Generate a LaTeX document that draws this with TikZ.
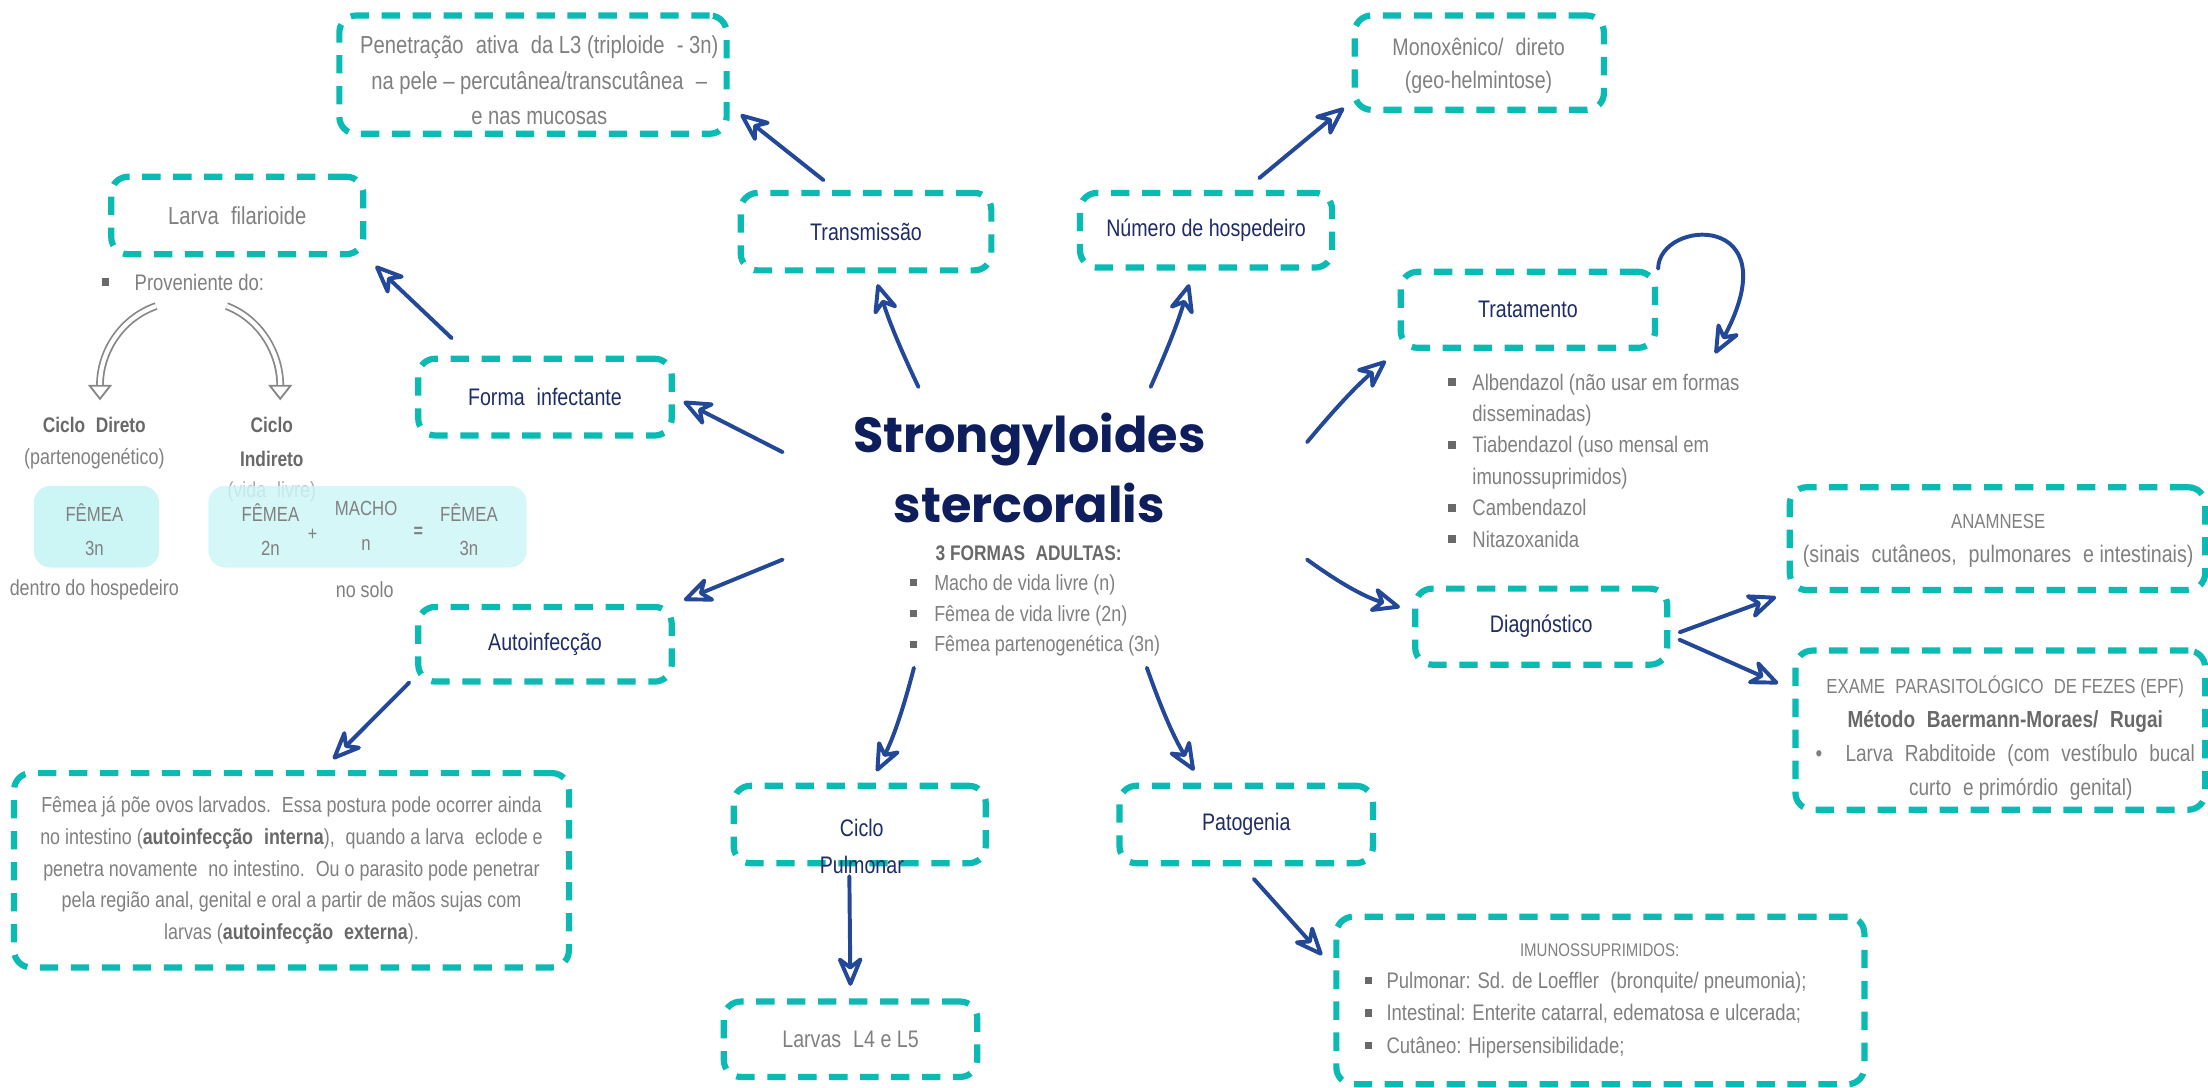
\documentclass[tikz,border=0pt]{standalone}
\usepackage{fontspec}
\setmainfont{Liberation Sans}[FakeStretch=0.82]
\newfontfamily\titlefont{Poppins}
\usetikzlibrary{arrows.meta}

\definecolor{boxteal}{RGB}{12,186,180}
\definecolor{labelnavy}{RGB}{30,44,104}
\definecolor{arrowblue}{RGB}{36,72,152}
\definecolor{titlenavy}{RGB}{14,30,92}
\definecolor{txtgray}{RGB}{128,128,128}
\definecolor{boldgray}{RGB}{105,105,105}
\definecolor{softcyan}{RGB}{204,246,246}
\definecolor{hollowgray}{RGB}{135,135,135}

\newcommand{\sqb}{\textcolor{boldgray}{\raisebox{0.18em}{\rule{0.34em}{0.34em}}}}
\newcommand{\fsz}[2]{\fontsize{#1}{#2}\selectfont}
\newcommand{\bgr}[1]{\textcolor{boldgray}{\textbf{#1}}}

\tikzset{
  dbox/.style={draw=boxteal, line width=4.4pt, dash pattern=on 13pt off 9pt,
    rounded corners=12pt, inner sep=0pt, align=center},
  navylbl/.style={text=labelnavy, font=\fsz{17}{21}},
  graytxt/.style={text=txtgray, inner sep=0pt, align=center},
  arr/.style={draw=arrowblue, line width=2.8pt, line cap=round,
    -{Stealth[open, round, length=25pt, width=21pt, inset=8pt]}},
  hollowout/.style={draw=hollowgray, line width=5.5pt,
    -{Triangle[open, line width=1.3pt, length=11pt, width=17pt]}},
  hollowin/.style={draw=white, line width=3pt, shorten >=11pt},
  cyanbox/.style={fill=softcyan, rounded corners=12pt, inner sep=0pt},
}

\begin{document}
\begin{tikzpicture}[x=1pt, y=-1pt]
\fill[white] (0,0) rectangle (1568,772);
\useasboundingbox (0,0) rectangle (1568,772);

% ---------- central title ----------
\node[minimum width=372pt, minimum height=199pt, inner sep=0pt] (hub) at (742,374.5) {};
\node[text=titlenavy, font=\titlefont\bfseries\fsz{35}{40}, inner sep=0pt, anchor=base] (title1) at (731,321) {Strongyloides};
\node[text=titlenavy, font=\titlefont\bfseries\fsz{35}{40}, inner sep=0pt, anchor=base] (title2) at (731,371) {stercoralis};
\node[text=boldgray, font=\bfseries\fsz{15}{20}, inner sep=0pt] (formas) at (730.5,393) {3 FORMAS\enspace ADULTAS:};
\node[graytxt, anchor=base west, font=\fsz{15.5}{22}, align=left] (formaslist) at (646,419)
  {\begin{tabular}[t]{@{}l@{\hspace{12pt}}l@{}}\sqb & Macho de vida livre (n)\\ \sqb & Fêmea de vida livre (2n)\\ \sqb & Fêmea partenogenética (3n)\end{tabular}};

% ---------- top row ----------
\node[dbox, minimum width=275pt, minimum height=84pt] (pen) at (378.5,53) {};
\node[graytxt, font=\fsz{17.5}{25}] (pentxt) at (383,57)
  {Penetração\enspace ativa\enspace da L3 (triploide\enspace - 3n)\\na pele – percutânea/transcutânea\enspace –\\e nas mucosas};
\node[dbox, minimum width=177pt, minimum height=67pt] (mono) at (1050.5,44.5) {};
\node[graytxt, font=\fsz{17}{23.5}] (monotxt) at (1050,47) {Monoxênico/\enspace direto\\(geo-helmintose)};
\node[dbox, navylbl, minimum width=178pt, minimum height=55pt] (trans) at (615,164.5) {Transmissão};
\node[dbox, navylbl, minimum width=179pt, minimum height=53pt] (num) at (856.5,163.5) {Número de hospedeiro};

% ---------- left side ----------
\node[dbox, text=txtgray, font=\fsz{17.5}{21}, minimum width=179pt, minimum height=55pt] (larva) at (168.5,153) {Larva\enspace filarioide};
\node[graytxt, anchor=base west, font=\fsz{16}{19}] (prov) at (72,206) {\sqb\hspace{18pt}Proveniente do:};
\node[text=boldgray, font=\bfseries\fsz{15}{19}, inner sep=0pt] (cdir) at (67,302) {Ciclo\enspace Direto};
\node[graytxt, font=\fsz{15.5}{19}] (cdirsub) at (67,326) {(partenogenético)};
\node[text=boldgray, font=\bfseries\fsz{15}{24}, inner sep=0pt, align=center] (cind) at (193,314) {Ciclo\\Indireto};
\node[text=txtgray!70, font=\fsz{15.5}{19}, inner sep=0pt] (vidalivre) at (193,349) {(vida\enspace livre)};

\node[cyanbox, minimum width=89pt, minimum height=58pt] (cyan1) at (68.5,374) {};
\node[cyanbox, fill opacity=0.82, minimum width=226pt, minimum height=58pt] (cyan2) at (261,374) {};
\node[graytxt, font=\fsz{14.5}{24}] (f3n) at (67,376) {FÊMEA\\3n};
\node[graytxt, font=\fsz{14.5}{24}] (f2n) at (192,376) {FÊMEA\\2n};
\node[graytxt, font=\fsz{14}{19}] (plus) at (222,380) {+};
\node[graytxt, font=\bfseries\fsz{14}{19}] (eq) at (297,378) {=};
\node[graytxt, font=\fsz{14.5}{25}] (macho) at (260,373.5) {MACHO\\n};
\node[graytxt, font=\fsz{14.5}{24}] (f3nb) at (333,376) {FÊMEA\\3n};
\node[graytxt, font=\fsz{15.5}{19}] (dentro) at (67,419) {dentro do hospedeiro};
\node[graytxt, font=\fsz{15.5}{19}] (solo) at (259,419) {no solo};

\node[dbox, navylbl, minimum width=180pt, minimum height=54.5pt] (forma) at (387,282) {Forma\enspace infectante};
\node[dbox, navylbl, minimum width=180pt, minimum height=53pt] (auto) at (387,457.5) {Autoinfecção};
\node[dbox, text=txtgray, font=\fsz{15.5}{22.4}, minimum width=394pt, minimum height=138pt] (femea) at (207,618)
  {Fêmea já põe ovos larvados.\enspace Essa postura pode ocorrer ainda\\
   no intestino (\bgr{autoinfecção\enspace interna}),\enspace quando a larva\enspace eclode e\\
   penetra novamente\enspace no intestino.\enspace Ou o parasito pode penetrar\\
   pela região anal, genital e oral a partir de mãos sujas com\\
   larvas (\bgr{autoinfecção\enspace externa}).};

% ---------- bottom ----------
\node[dbox, minimum width=179pt, minimum height=55pt] (ciclo) at (610.5,585.5) {};
\node[text=labelnavy, inner sep=0pt, align=center, font=\fsz{17}{26}] (ciclotxt) at (612,601) {Ciclo\\Pulmonar};
\node[dbox, text=txtgray, font=\fsz{17}{21}, minimum width=180pt, minimum height=53.5pt] (larvas) at (604,738) {Larvas\enspace L4 e L5};
\node[dbox, navylbl, minimum width=180pt, minimum height=55pt] (pato) at (885,585.5) {Patogenia};
\node[dbox, minimum width=375pt, minimum height=119pt] (imuno) at (1136.5,710.5) {};
\node[graytxt, font=\fsz{13}{18}] (imunotit) at (1136,675) {IMUNOSSUPRIMIDOS:};
\node[graytxt, anchor=base west, font=\fsz{16}{23}, align=left] (imunolist) at (969,702)
  {\begin{tabular}[t]{@{}l@{\hspace{10pt}}l@{}}\sqb & Pulmonar: Sd. de Loeffler\enspace (bronquite/ pneumonia);\\ \sqb & Intestinal: Enterite catarral, edematosa e ulcerada;\\ \sqb & Cutâneo: Hipersensibilidade;\end{tabular}};

% ---------- right side ----------
\node[dbox, navylbl, minimum width=180.6pt, minimum height=54pt] (trat) at (1085,220) {Tratamento};
\node[graytxt, anchor=base west, font=\fsz{16}{22.3}, align=left] (tratlist) at (1028,277)
  {\begin{tabular}[t]{@{}l@{\hspace{12pt}}l@{}}\sqb & Albendazol (não usar em formas\\ & disseminadas)\\ \sqb & Tiabendazol (uso mensal em\\ & imunossuprimidos)\\ \sqb & Cambendazol\\ \sqb & Nitazoxanida\end{tabular}};
\node[dbox, navylbl, minimum width=179pt, minimum height=54pt] (diag) at (1094.5,445) {Diagnóstico};
\node[dbox, minimum width=295pt, minimum height=73pt] (anam) at (1418.5,382.5) {};
\node[graytxt, font=\fsz{17}{24}] (anamtxt) at (1419,384)
  {{\fsz{14.5}{24}ANAMNESE}\\(sinais\enspace cutâneos,\enspace pulmonares\enspace e intestinais)};
\node[dbox, minimum width=291pt, minimum height=113pt] (exame) at (1420.5,518.5) {};
\node[graytxt, font=\fsz{16.5}{24}] (exametxt) at (1424,524)
  {{\fsz{14.5}{24}EXAME\enspace PARASITOLÓGICO\enspace DE FEZES (EPF)}\\
   \bgr{Método\enspace Baermann-Moraes/\enspace Rugai}\\
   •\enspace\enspace Larva\enspace Rabditoide\enspace (com\enspace vestíbulo\enspace bucal\\
   \hspace*{22pt}curto\enspace e primórdio\enspace genital)};

% ---------- hollow grey arrows ----------
\draw[hollowout] ([shift={(-19,11)}]prov.south) .. controls (86,226) and (71,250) .. ([shift={(4,-12)}]cdir.north);
\draw[hollowin] ([shift={(-19,11)}]prov.south) .. controls (86,226) and (71,250) .. ([shift={(4,-12)}]cdir.north);
\draw[hollowout] ([shift={(31,11)}]prov.south) .. controls (184,226) and (199,250) .. ([shift={(6,-12)}]cind.north);
\draw[hollowin] ([shift={(31,11)}]prov.south) .. controls (184,226) and (199,250) .. ([shift={(6,-12)}]cind.north);

% ---------- navy arrows ----------
\draw[arr, shorten <=11pt, shorten >=10pt] (trans.126) -- (pen.-9.6);
\draw[arr, shorten >=8pt] (hub.132.8) to[bend left=4] (trans.281);
\draw[arr, shorten >=10pt] (hub.53.1) to[bend right=4] (num.252.5);
\draw[arr, shorten <=13pt, shorten >=7pt] (num.46) -- (mono.197.4);
\draw[arr, shorten >=7pt] (hub.164.2) -- (forma.east);
\draw[arr, shorten <=18pt, shorten >=9pt] (forma.151.7) -- (larva.south east);
\draw[arr, shorten >=7pt] (hub.187.2) -- (auto.north east);
\draw[arr, shorten <=6pt, shorten >=11pt] (auto.194.9) -- (femea.73.3);
\draw[arr, shorten >=9pt] (hub.227.2) to[bend left=6] (ciclo.75.4);
\draw[arr, shorten <=7pt, shorten >=9pt] (ciclo.256) -- (larvas.north);
\draw[arr, shorten >=10pt] (hub.306.6) to[bend right=6] (pato.137.6);
\draw[arr, shorten <=12pt, shorten >=12pt] (pato.265.7) -- (imuno.173.3);
\draw[arr, shorten >=11pt] (hub.18.9) to[bend left=5] (trat.south west);
\draw[arr, shorten >=9pt] (hub.353.9) to[bend right=10] (diag.173);
\draw[arr, shorten <=7pt, shorten >=8pt] (diag.-4.1) -- (anam.south west);
\draw[arr, shorten <=7pt, shorten >=11pt] (diag.-4.1) -- (exame.169.7);
\coordinate (loopend) at (1218,251);
\draw[arr] (trat.north east) .. controls (1178,155) and (1272,150) .. (loopend);
\end{tikzpicture}
\end{document}
